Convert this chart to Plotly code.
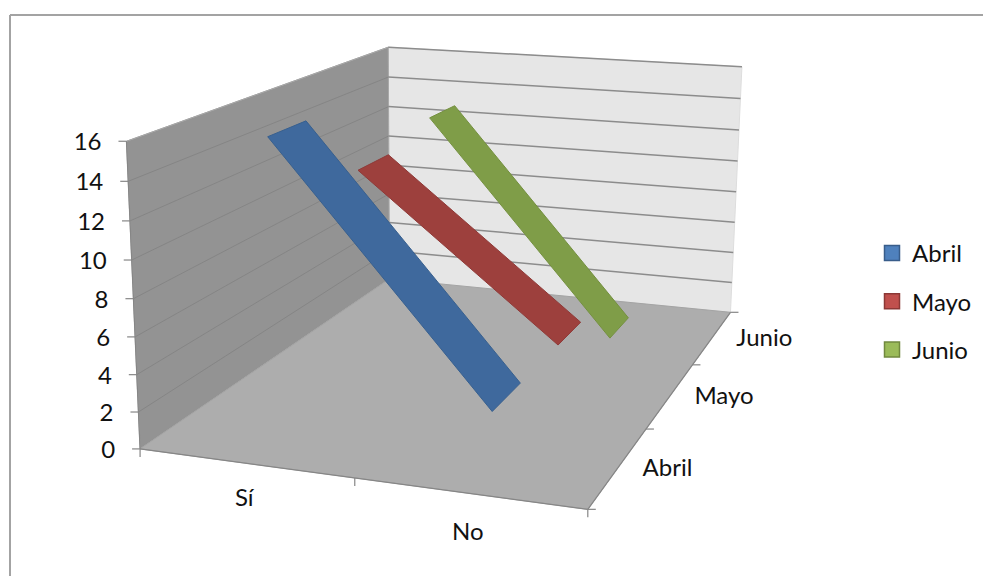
import numpy as np
import plotly.graph_objects as go

# Chart data
categories = ["Sí", "No"]
series_names = ["Abril", "Mayo", "Junio"]
abril = [16, 3]
mayo = [12, 3]
junio = [13, 0]
value_ticks = [0, 2, 4, 6, 8, 10, 12, 14, 16]

# Colours per series: ribbon face, ribbon edge, legend face, legend edge
ribbon_fill = ["#3F699D", "#9D403D", "#7F9D48"]
ribbon_edge = ["#38608F", "#8F3A38", "#74903F"]
swatch_fill = ["#4F81BD", "#C0504D", "#9BBB59"]
swatch_edge = ["#385D8A", "#8C3836", "#71893F"]

FONT = dict(family="Lato", size=24, color="#111111")
AXIS_GREY = "#868686"

# Extent of the 3D box: categories on x, series on y, values on z
X_MAX, Y_MAX, Z_MAX = len(categories), len(series_names), value_ticks[-1]

# Perspective camera, calibrated on where box points land on the canvas
view_anchors = [
    ((0, 0, 0), (141, 449)), ((2, 0, 0), (587, 509)), ((2, 3, 0), (730, 312)),
    ((0, 3, 0), (389, 280)), ((0, 0, 16), (126, 141)), ((0, 3, 16), (388.5, 48)),
    ((2, 3, 16), (742, 67)), ((1, 0, 0), (354, 478)), ((2, 1, 0), (647, 429)),
    ((2, 2, 0), (693, 365)), ((0, 0, 8), (133.5, 299)), ((2, 3, 8), (736, 192)),
    ((0, 3, 8), (389, 163)),
]


def fit_camera(anchors):
    rows, rhs = [], []
    for (x, y, z), (px, py) in anchors:
        rows.append([x, y, z, 1, 0, 0, 0, 0, -px * x, -px * y, -px * z])
        rows.append([0, 0, 0, 0, x, y, z, 1, -py * x, -py * y, -py * z])
        rhs += [px, py]
    sol = np.linalg.lstsq(np.array(rows, float), np.array(rhs, float), rcond=None)[0]
    return np.append(sol, 1.0).reshape(3, 4)


CAMERA = fit_camera(view_anchors)


def project(x, y, z):
    h = CAMERA @ np.array([x, y, z, 1.0])
    return h[0] / h[2], h[1] / h[2]


def polyline(points):
    xy = [project(*p) for p in points]
    return [a for a, _ in xy], [b for _, b in xy]


def segments(pairs):
    xs, ys = [], []
    for a, b in pairs:
        ax, ay = project(*a)
        bx, by = project(*b)
        xs += [ax, bx, None]
        ys += [ay, by, None]
    return xs, ys


fig = go.Figure()


def panel(points, color, edge):
    xs, ys = polyline(points + points[:1])
    fig.add_trace(go.Scatter(x=xs, y=ys, mode="lines", fill="toself", fillcolor=color,
                             line=dict(color=edge, width=1), hoverinfo="skip", showlegend=False))


def lines(xs, ys, color, width):
    fig.add_trace(go.Scatter(x=xs, y=ys, mode="lines", line=dict(color=color, width=width),
                             hoverinfo="skip", showlegend=False))


# Walls and floor
panel([(0, Y_MAX, 0), (X_MAX, Y_MAX, 0), (X_MAX, Y_MAX, Z_MAX), (0, Y_MAX, Z_MAX)], "#E6E6E6", "#DDDDDD")
panel([(0, 0, 0), (0, Y_MAX, 0), (0, Y_MAX, Z_MAX), (0, 0, Z_MAX)], "#939393", "#A8A8A8")
panel([(0, 0, 0), (X_MAX, 0, 0), (X_MAX, Y_MAX, 0), (0, Y_MAX, 0)], "#ADADAD", "#A4A4A4")

# Gridlines on both walls
grid = value_ticks[1:]
lines(*segments([((0, Y_MAX, v), (X_MAX, Y_MAX, v)) for v in grid]), "#8C8C8C", 1.5)
lines(*segments([((0, 0, v), (0, Y_MAX, v)) for v in grid[:-1]]), "#858585", 1)
lines(*segments([((0, 0, Z_MAX), (0, Y_MAX, Z_MAX))]), "#A6A6A6", 1)

# Ribbons, drawn back to front
DEPTH_LO, DEPTH_HI = 0.3, 0.7
all_values = [abril, mayo, junio]
for idx in reversed(range(len(all_values))):
    a, b = all_values[idx]
    corners = [(0.5, idx + DEPTH_LO, a), (0.5, idx + DEPTH_HI, a),
               (1.5, idx + DEPTH_HI, b), (1.5, idx + DEPTH_LO, b), (0.5, idx + DEPTH_LO, a)]
    xs, ys = polyline(corners)
    fig.add_trace(go.Scatter(x=xs, y=ys, mode="lines", fill="toself", fillcolor=ribbon_fill[idx],
                             line=dict(color=ribbon_edge[idx], width=1), name=series_names[idx],
                             showlegend=False))

# Axis lines and tick marks
lines(*segments([((0, 0, 0), (X_MAX, 0, 0)), ((X_MAX, 0, 0), (X_MAX, Y_MAX, 0)),
                 ((0, 0, 0), (0, 0, Z_MAX))]), AXIS_GREY, 1.2)
tx, ty = [], []
for i in range(X_MAX + 1):
    px, py = project(i, 0, 0)
    tx += [px, px, None]
    ty += [py, py + 8, None]
for j in range(Y_MAX + 1):
    px, py = project(X_MAX, j, 0)
    tx += [px, px + 8, None]
    ty += [py, py, None]
for v in value_ticks:
    px, py = project(0, 0, v)
    tx += [px - 8, px, None]
    ty += [py, py, None]
lines(tx, ty, AXIS_GREY, 1.2)


def labels(xs, ys, texts, position):
    fig.add_trace(go.Scatter(x=xs, y=ys, text=texts, mode="text", textposition=position,
                             textfont=FONT, hoverinfo="skip", showlegend=False))


# Value labels, left of their ticks
pts = [project(0, 0, v) for v in value_ticks]
labels([p[0] - 25 for p in pts], [p[1] + 3 for p in pts], [str(v) for v in value_ticks], "middle left")

# Category labels, below the front edge (the gap widens towards the viewer)
pts = [project(i + 0.5, 0, 0) for i in range(X_MAX)]
labels([p[0] - 1 for p in pts], [p[1] + 37 + 4 * i for i, p in enumerate(pts)], categories, "middle center")

# Series labels, right of the side edge
pts = [project(X_MAX, j + 0.5, 0) for j in range(Y_MAX)]
labels([p[0] + 24 for p in pts], [p[1] + 3 for p in pts], series_names, "middle right")

# Legend entries
for name, face, edge in zip(series_names, swatch_fill, swatch_edge):
    fig.add_trace(go.Scatter(x=[None], y=[None], mode="markers", name=name, legendgroup=name,
                             marker=dict(symbol="square", size=15, color=face,
                                         line=dict(color=edge, width=1.5))))

fig.update_layout(
    width=983, height=576, margin=dict(l=0, r=0, t=0, b=0, pad=0),
    paper_bgcolor="white", plot_bgcolor="white", autosize=False,
    xaxis=dict(range=[0, 983], visible=False, fixedrange=True),
    yaxis=dict(range=[576, 0], visible=False, fixedrange=True),
    legend=dict(x=872 / 983, y=1 - 231 / 576, xanchor="left", yanchor="top",
                font=FONT, tracegroupgap=14, bgcolor="rgba(0,0,0,0)"),
    shapes=[dict(type="line", x0=10, y0=576, x1=10, y1=15, line=dict(color="#A3A3A3", width=2)),
            dict(type="line", x0=10, y0=15, x1=983, y1=15, line=dict(color="#A3A3A3", width=2))],
)

fig.write_html("out.html", config=dict(displayModeBar=False))
